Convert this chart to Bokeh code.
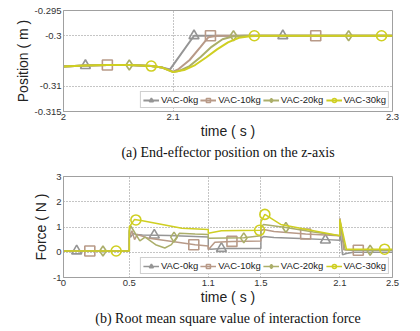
from bokeh.plotting import figure
from bokeh.layouts import column
from bokeh.models import (FixedTicker, CustomJSTickFormatter, Legend, LegendItem,
                          Title, Range1d)
from bokeh.embed import file_html
from bokeh.resources import INLINE

series_names = ["VAC-0kg", "VAC-10kg", "VAC-20kg", "VAC-30kg"]
colors = ["#959595", "#b89a88", "#abae6a", "#cfcf22"]
marker_types = ["triangle", "square", "diamond", "circle"]

# ---------------- (a) position data ----------------
pos_x_ticks = [2.0, 2.1, 2.3]
pos_y_ticks = [-0.315, -0.31, -0.3, -0.295]

pos_t_0kg = [2.0, 2.01, 2.02, 2.04, 2.06, 2.08, 2.09, 2.097, 2.119, 2.3]
pos_v_0kg = [-0.3061, -0.3060, -0.3059, -0.3058, -0.3058, -0.3060, -0.3063, -0.3067, -0.3000, -0.3000]
pos_t_10kg = [2.0, 2.01, 2.02, 2.04, 2.06, 2.08, 2.09, 2.1, 2.105, 2.115, 2.125, 2.132, 2.14, 2.3]
pos_v_10kg = [-0.3061, -0.3060, -0.3059, -0.3058, -0.3058, -0.3060, -0.3063, -0.3071, -0.3066, -0.3048, -0.3022, -0.3003, -0.3000, -0.3000]
pos_t_20kg = [2.0, 2.01, 2.02, 2.04, 2.06, 2.08, 2.09, 2.1, 2.105, 2.115, 2.125, 2.135, 2.145, 2.155, 2.165, 2.3]
pos_v_20kg = [-0.3061, -0.3060, -0.3059, -0.3058, -0.3058, -0.3060, -0.3063, -0.3072, -0.3070, -0.3060, -0.3042, -0.3022, -0.3007, -0.3001, -0.3000, -0.3000]
pos_t_30kg = [2.0, 2.01, 2.02, 2.04, 2.06, 2.08, 2.09, 2.1, 2.11, 2.12, 2.13, 2.14, 2.15, 2.16, 2.17, 2.18, 2.3]
pos_v_30kg = [-0.3061, -0.3060, -0.3059, -0.3058, -0.3058, -0.3060, -0.3063, -0.3072, -0.3068, -0.3058, -0.3043, -0.3027, -0.3013, -0.3004, -0.3001, -0.3000, -0.3000]

pos_mk_t_0kg = [2.02, 2.119, 2.2]
pos_mk_v_0kg = [-0.3059, -0.3, -0.3]
pos_mk_t_10kg = [2.04, 2.134, 2.23]
pos_mk_v_10kg = [-0.3058, -0.3, -0.3]
pos_mk_t_20kg = [2.06, 2.155, 2.26]
pos_mk_v_20kg = [-0.3058, -0.3, -0.3]
pos_mk_t_30kg = [2.08, 2.174, 2.29]
pos_mk_v_30kg = [-0.3060, -0.3, -0.3]

# ---------------- (b) force data ----------------
f_x_ticks = [0, 0.5, 1.1, 1.5, 2.1, 2.5]
f_y_ticks = [-1, 0, 1, 2, 3]

f_t_0kg = [0, 0.5, 0.5, 0.51, 0.53, 0.55, 0.6, 0.8, 1.0, 1.1, 1.1, 1.12, 1.2, 1.4, 1.5, 1.5, 1.52, 1.6, 1.8, 2.0, 2.1, 2.1, 2.12, 2.15, 2.2, 2.5]
f_v_0kg = [0.05, 0.05, 0.9, 0.6, 0.75, 0.7, 0.68, 0.66, 0.62, 0.6, 0.15, 0.12, 0.15, 0.15, 0.15, 0.55, 0.62, 0.58, 0.54, 0.5, 0.48, 1.0, -0.1, -0.05, 0.0, 0.0]
f_t_10kg = [0, 0.5, 0.5, 0.52, 0.54, 0.56, 0.65, 0.8, 1.0, 1.1, 1.1, 1.15, 1.28, 1.5, 1.5, 1.52, 1.6, 1.84, 2.1, 2.1, 2.13, 2.2, 2.5]
f_v_10kg = [0.05, 0.05, 0.55, 0.85, 0.5, 0.7, 0.55, 0.45, 0.3, 0.25, 0.1, 0.4, 0.43, 0.45, 0.85, 0.9, 0.82, 0.72, 0.65, 1.35, 0.1, 0.08, 0.08]
f_t_20kg = [0, 0.5, 0.5, 0.51, 0.58, 0.62, 0.7, 0.77, 0.82, 0.88, 1.0, 1.1, 1.1, 1.37, 1.5, 1.5, 1.52, 1.69, 1.9, 2.1, 2.1, 2.14, 2.2, 2.5]
f_v_20kg = [0.05, 0.05, 0.8, 1.05, 0.45, 0.6, 0.3, 0.17, 0.3, 0.75, 0.72, 0.7, 0.55, 0.57, 0.65, 1.0, 1.1, 0.98, 0.8, 0.65, 1.25, 0.1, 0.08, 0.08]
f_t_30kg = [0, 0.5, 0.5, 0.54, 0.6, 0.75, 0.9, 1.1, 1.1, 1.2, 1.5, 1.5, 1.53, 1.65, 1.8, 2.0, 2.1, 2.1, 2.15, 2.5]
f_v_30kg = [0.05, 0.05, 1.0, 1.3, 1.25, 1.1, 0.95, 0.9, 0.75, 0.85, 0.87, 1.2, 1.5, 1.1, 0.95, 0.75, 0.65, 1.3, 0.12, 0.12]

f_mk_t_0kg = [0.1, 0.69, 1.2, 1.99]
f_mk_v_0kg = [0.05, 0.68, 0.15, 0.48]
f_mk_t_10kg = [0.2, 0.99, 1.28, 1.84, 2.24]
f_mk_v_10kg = [0.05, 0.3, 0.43, 0.72, 0.08]
f_mk_t_20kg = [0.3, 0.84, 1.37, 1.69, 2.33]
f_mk_v_20kg = [0.05, 0.6, 0.57, 0.98, 0.08]
f_mk_t_30kg = [0.4, 0.55, 1.49, 1.53, 2.44]
f_mk_v_30kg = [0.05, 1.28, 0.87, 1.5, 0.12]

FONT = "Liberation Sans"
SERIF = "Liberation Serif"
fmt = CustomJSTickFormatter(code="return String(Math.round(tick*1000)/1000);")


def style(p, xticks, yticks, xlabel, ylabel):
    p.xaxis.ticker = FixedTicker(ticks=xticks)
    p.yaxis.ticker = FixedTicker(ticks=yticks)
    p.xaxis.formatter = fmt
    p.yaxis.formatter = fmt
    for ax in (p.xaxis[0], p.yaxis[0]):
        ax.major_tick_in = 0
        ax.major_tick_out = 0
        ax.minor_tick_in = 0
        ax.minor_tick_out = 0
        ax.axis_line_color = "#a0a0a0"
        ax.major_label_text_font = FONT
        ax.major_label_text_font_size = "9.5px"
        ax.major_label_text_color = "#333333"
        ax.axis_label_text_font = FONT
        ax.axis_label_text_font_size = "14px"
        ax.axis_label_text_font_style = "normal"
        ax.axis_label_text_color = "#222222"
    p.xaxis.axis_label = xlabel
    p.yaxis.axis_label = ylabel
    p.xaxis.major_label_standoff = 2
    p.yaxis.major_label_standoff = 2
    p.xaxis.axis_label_standoff = 0
    p.yaxis.axis_label_standoff = 1
    p.grid.grid_line_color = "#8a8a8a"
    p.grid.grid_line_dash = "1 2"
    p.grid.grid_line_width = 1
    p.outline_line_color = "#a0a0a0"
    p.outline_line_width = 1
    p.background_fill_color = "white"


def add_series(p, ts, vs, mts, mvs, lw):
    items = []
    for name, c, m, t, v, mt, mv in zip(series_names, colors, marker_types, ts, vs, mts, mvs):
        r1 = p.line(t, v, line_color=c, line_width=lw)
        r2 = p.scatter(mt, mv, marker=m, size=10, line_color=c, line_width=1.6,
                       fill_color=None)
        items.append(LegendItem(label=name, renderers=[r1, r2]))
    leg = Legend(items=items, orientation="horizontal", location="bottom_right",
                 label_text_font=FONT, label_text_font_size="9.5px",
                 label_text_color="#222222", label_height=10, glyph_height=10,
                 glyph_width=16, label_standoff=2, spacing=2, padding=2, margin=3,
                 border_line_color="#a0a0a0", border_line_width=1,
                 background_fill_color="white", background_fill_alpha=1)
    p.add_layout(leg, "center")


# ---------------- figure (a) ----------------
p1 = figure(width=420, height=165, output_backend="svg", toolbar_location=None,
            x_range=Range1d(2.0, 2.3), y_range=Range1d(-0.315, -0.295),
            min_border_left=60, min_border_right=28, min_border_top=10,
            min_border_bottom=54)
style(p1, pos_x_ticks, pos_y_ticks, "time ( s )", "Position ( m )")
add_series(p1, [pos_t_0kg, pos_t_10kg, pos_t_20kg, pos_t_30kg],
           [pos_v_0kg, pos_v_10kg, pos_v_20kg, pos_v_30kg],
           [pos_mk_t_0kg, pos_mk_t_10kg, pos_mk_t_20kg, pos_mk_t_30kg],
           [pos_mk_v_0kg, pos_mk_v_10kg, pos_mk_v_20kg, pos_mk_v_30kg], 2)
p1.add_layout(Title(text="(a) End-effector position on the z-axis", align="center",
                    text_font=SERIF, text_font_size="14px", text_font_style="normal",
                    text_color="#111111", standoff=3), "below")

# ---------------- figure (b) ----------------
p2 = figure(width=420, height=166, output_backend="svg", toolbar_location=None,
            x_range=Range1d(0, 2.5), y_range=Range1d(-1, 3),
            min_border_left=63, min_border_right=27, min_border_top=11,
            min_border_bottom=54)
style(p2, f_x_ticks, f_y_ticks, "time ( s )", "Force ( N )")
add_series(p2, [f_t_0kg, f_t_10kg, f_t_20kg, f_t_30kg],
           [f_v_0kg, f_v_10kg, f_v_20kg, f_v_30kg],
           [f_mk_t_0kg, f_mk_t_10kg, f_mk_t_20kg, f_mk_t_30kg],
           [f_mk_v_0kg, f_mk_v_10kg, f_mk_v_20kg, f_mk_v_30kg], 1.5)
p2.add_layout(Title(text="(b) Root mean square value of interaction force", align="center",
                    text_font=SERIF, text_font_size="14px", text_font_style="normal",
                    text_color="#111111", standoff=3), "below")

layout = column(p1, p2, spacing=0)
open("out.html", "w").write(file_html(layout, INLINE))
